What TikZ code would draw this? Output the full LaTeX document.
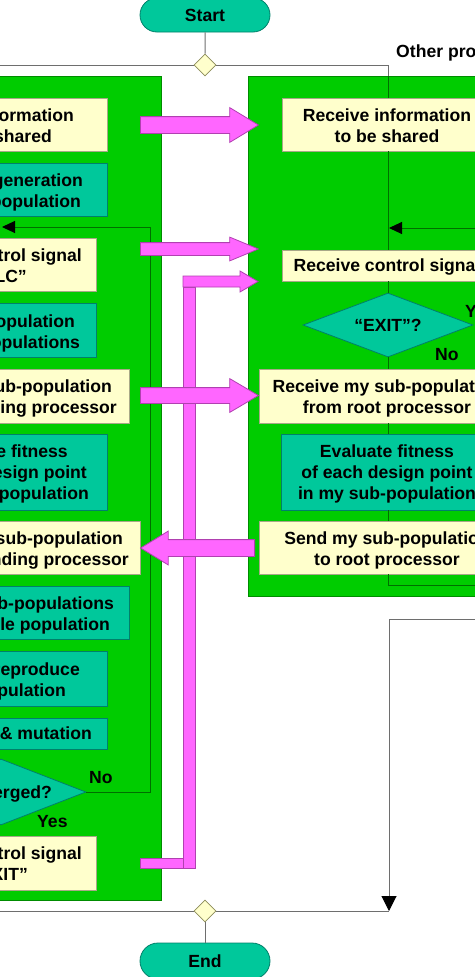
\documentclass[tikz,border=0pt]{standalone}
\usepackage{fontspec}
\setmainfont{Liberation Sans}
\usepackage{tikz}
\usetikzlibrary{arrows.meta}
\usetikzlibrary{shapes.geometric,shapes.misc,shapes.arrows}

\definecolor{panelgreen}{HTML}{00CC00}
\definecolor{panelline}{HTML}{008C00}
\definecolor{cream}{HTML}{FFFFCC}
\definecolor{creamline}{HTML}{A8A888}
\definecolor{tealfill}{HTML}{00C89B}
\definecolor{tealline}{HTML}{00806A}
\definecolor{pinkfill}{HTML}{FF66FF}
\definecolor{pinkline}{HTML}{B040B0}
\definecolor{linegray}{HTML}{6E6E6E}
\definecolor{innergreen}{HTML}{006E00}
\definecolor{forkline}{HTML}{8C8C5A}
\newcommand{\diagfont}{\fontsize{17.6}{21}\selectfont\bfseries}

\begin{document}
\begin{tikzpicture}[x=1pt,y=-1pt,>={Triangle[length=13pt,width=12pt,color=black]}]
	\tikzstyle{lien}=[-,line width=1pt,draw=linegray]
	\tikzstyle{lienvert}=[-,line width=1pt,draw=innergreen]
	\tikzset{panneau/.style={draw=panelline,fill=panelgreen,line width=1pt,inner sep=0pt},
		creambox/.style={draw=creamline,fill=cream,line width=0.8pt,inner sep=0pt},
		tealbox/.style={draw=tealline,fill=tealfill,line width=0.8pt,inner sep=0pt},
		losange/.style={diamond,draw=tealline,fill=tealfill,line width=0.8pt,inner sep=0pt,aspect=2.6,minimum width=170pt,minimum height=65pt,font=\diagfont},
		fourche/.style={diamond,draw=forkline,fill=cream,line width=0.8pt,inner sep=0pt,minimum size=22pt},
		terminal/.style={rounded rectangle,draw=tealline,fill=tealfill,line width=0.8pt,inner sep=0pt,minimum width=130pt,font=\diagfont},
		txt/.style={font=\diagfont,inner sep=0pt},
		pinkarrow/.style={single arrow,draw=pinkline,fill=pinkfill,line width=0.8pt,single arrow head indent=0pt,minimum height=118pt},
		pinkpiece/.style={draw=pinkline,fill=pinkfill,line width=0.8pt}}
	\useasboundingbox (0,0) rectangle (474,977);
	% panels
	\node[panneau,anchor=north east,minimum width=500pt,minimum height=824pt] (rootpanel) at (162,76) {};
	\node[panneau,anchor=north west,minimum width=300pt,minimum height=520pt] (otherpanel) at (248,76) {};
	\node[terminal,minimum height=34pt] (start) at (205,15) {Start};
	\node[fourche] (forkd) at (205,65) {};
	\node[fourche] (joind) at (205,911) {};
	\node[terminal,minimum height=36pt] (end) at (205,961) {End};
	\node[txt,anchor=base west] (other) at (396,57) {Other processors};
	% root processor
	\node[creambox,anchor=east,minimum width=260pt,minimum height=53pt] (sendinfo) at (108,124.5) {};
	\node[txt,anchor=base east] (sendinfo1) at (74,121) {information};
	\node[txt,anchor=base east] (sendinfo2) at (52,142) {shared};
	\node[tealbox,anchor=east,minimum width=260pt,minimum height=53pt] (initgen) at (108,189.5) {};
	\node[txt,anchor=base east] (initgen1) at (83,186) {generation};
	\node[txt,anchor=base east] (initgen2) at (81,207) {population};
	\node[creambox,anchor=east,minimum width=260pt,minimum height=53pt] (sendcalc) at (97,264.5) {};
	\node[txt,anchor=base east] (sendcalc1) at (82,261) {control signal};
	\node[txt,anchor=base east] (sendcalc2) at (27,282) {LC”};
	\node[tealbox,anchor=east,minimum width=260pt,minimum height=54pt] (divide) at (97,330.5) {};
	\node[txt,anchor=base east] (divide1) at (75,327) {population};
	\node[txt,anchor=base east] (divide2) at (80,348) {populations};
	\node[creambox,anchor=east,minimum width=260pt,minimum height=54pt] (sendsub) at (130,396) {};
	\node[txt,anchor=base east] (sendsub1) at (112,392) {sub-population};
	\node[txt,anchor=base east] (sendsub2) at (117,413) {corresponding processor};
	\node[tealbox,anchor=east,minimum width=260pt,minimum height=76pt] (evalall) at (108,472) {};
	\node[txt,anchor=base east] (evalall1) at (68,457) {Evaluate fitness};
	\node[txt,anchor=base east] (evalall2) at (87,478) {design point};
	\node[txt,anchor=base east] (evalall3) at (89,499) {sub-population};
	\node[creambox,anchor=east,minimum width=260pt,minimum height=53pt] (gather) at (141,547.5) {};
	\node[txt,anchor=base east] (gather1) at (123,544) {sub-population};
	\node[txt,anchor=base east] (gather2) at (129,565) {corresponding processor};
	\node[tealbox,anchor=east,minimum width=260pt,minimum height=53pt] (mergesub) at (130,612.5) {};
	\node[txt,anchor=base east] (mergesub1) at (114,609) {sub-populations};
	\node[txt,anchor=base east] (mergesub2) at (110,630) {whole population};
	\node[tealbox,anchor=east,minimum width=260pt,minimum height=55pt] (select) at (108,678.5) {};
	\node[txt,anchor=base east] (select1) at (80,675) {reproduce};
	\node[txt,anchor=base east] (select2) at (66,696) {population};
	\node[tealbox,anchor=east,minimum width=260pt,minimum height=31pt] (crossmut) at (108,733.5) {};
	\node[txt,anchor=base east] (crossmut1) at (92,739) {Crossover \& mutation};
	\node[losange,minimum height=66pt] (conv) at (1,792) {};
	\node[txt,anchor=base east] (conv1) at (52,798) {Converged?};
	\node[txt,anchor=base west] (convno) at (89,783) {No};
	\node[txt,anchor=base west] (convyes) at (37,827) {Yes};
	\node[creambox,anchor=east,minimum width=260pt,minimum height=54pt] (sendexit) at (97,863) {};
	\node[txt,anchor=base east] (sendexit1) at (82,859) {control signal};
	\node[txt,anchor=base east] (sendexit2) at (28,880) {“EXIT”};
	% other processors
	\node[creambox,minimum width=212pt,minimum height=53pt] (rinfo) at (388,124.5) {};
	\node[txt,anchor=base] (rinfo1) at (387,121) {Receive information};
	\node[txt,anchor=base] (rinfo2) at (387,142) {to be shared};
	\node[creambox,minimum width=212pt,minimum height=31pt] (rsignal) at (388,265.5) {};
	\node[txt,anchor=base] (rsignal1) at (387,271) {Receive control signal};
	\node[losange,minimum height=64pt] (rexit) at (388,325) {“EXIT”?};
	\node[txt,anchor=base west] (rexityes) at (465,317) {Yes};
	\node[txt,anchor=base west] (rexitno) at (435,360) {No};
	\node[creambox,minimum width=258pt,minimum height=54pt] (rrecv) at (388,396) {};
	\node[txt,anchor=base] (rrecv1) at (387,392) {Receive my sub-population};
	\node[txt,anchor=base] (rrecv2) at (387,413) {from root processor};
	\node[tealbox,minimum width=214pt,minimum height=76pt] (reval) at (388,472) {};
	\node[txt,anchor=base] (reval1) at (387,457) {Evaluate fitness};
	\node[txt,anchor=base] (reval2) at (387,478) {of each design point};
	\node[txt,anchor=base] (reval3) at (387,499) {in my sub-population};
	\node[creambox,minimum width=258pt,minimum height=53pt] (rsend) at (388,547.5) {};
	\node[txt,anchor=base] (rsend1) at (387,544) {Send my sub-population};
	\node[txt,anchor=base] (rsend2) at (387,565) {to root processor};
	% free ends
	\coordinate (rootin) at (-10,65);
	\coordinate (otherin) at (388,76);
	\coordinate (lcorner) at (150,227);
	\coordinate (lloopin) at (2,227);
	\coordinate (rloopout) at (480,585);
	\coordinate (rloopfrom) at (480,228);
	\coordinate (rloopin) at (389,228);
	\coordinate (yesin) at (480,619);
	\coordinate (yesend) at (389,911);
	\coordinate (rootout) at (-10,911);
	\draw[lien] (start) -- (forkd);
	\draw[lien] (forkd) -- (rootin);
	\draw[lien] (forkd) -| (otherin);
	\draw[lienvert] (otherin) -- (rinfo);
	\draw[lienvert] (rinfo) -- (rsignal);
	\draw[lienvert] (rsignal) -- (rexit);
	\draw[lienvert] (rexit) -- (rrecv);
	\draw[lienvert] (rrecv) -- (reval);
	\draw[lienvert] (reval) -- (rsend);
	\draw[lienvert] (rsend) |- (rloopout);
	\draw[lienvert,->] (rloopfrom) -- (rloopin);
	\draw[lienvert,->] (conv.east) -| (lcorner) -- (lloopin);
	\draw[lien,-{Triangle[length=15pt,width=15pt,color=black]}] (yesin) -| (yesend);
	\draw[lien] (rootout) -- (joind);
	\draw[lien] (joind) -- (yesend);
	\draw[lien] (joind) -- (end);
	% messages
	\filldraw[pinkpiece] (140,858) rectangle (183,868);
	\filldraw[pinkpiece] (183,287) rectangle (195,868);
	\filldraw[pinkpiece] (183,276) -- (240,276) -- (240,271) -- (258,281.5) -- (240,292) -- (240,287) -- (183,287) -- cycle;
	\node[pinkarrow,anchor=tail,inner sep=8pt,single arrow head extend=9pt,single arrow tip angle=62.5] (infoarrow) at (140,125) {};
	\node[pinkarrow,anchor=tail,inner sep=6pt,single arrow head extend=5.5pt,single arrow tip angle=45] (calcarrow) at (140,249) {};
	\node[pinkarrow,anchor=tail,inner sep=7.5pt,single arrow head extend=9pt,single arrow tip angle=61] (subarrow) at (140,395.5) {};
	\node[pinkarrow,anchor=tail,shape border rotate=180,minimum height=114pt,inner sep=8pt,single arrow head extend=8.5pt,single arrow tip angle=63] (backarrow) at (255,548) {};
\end{tikzpicture}
\end{document}
